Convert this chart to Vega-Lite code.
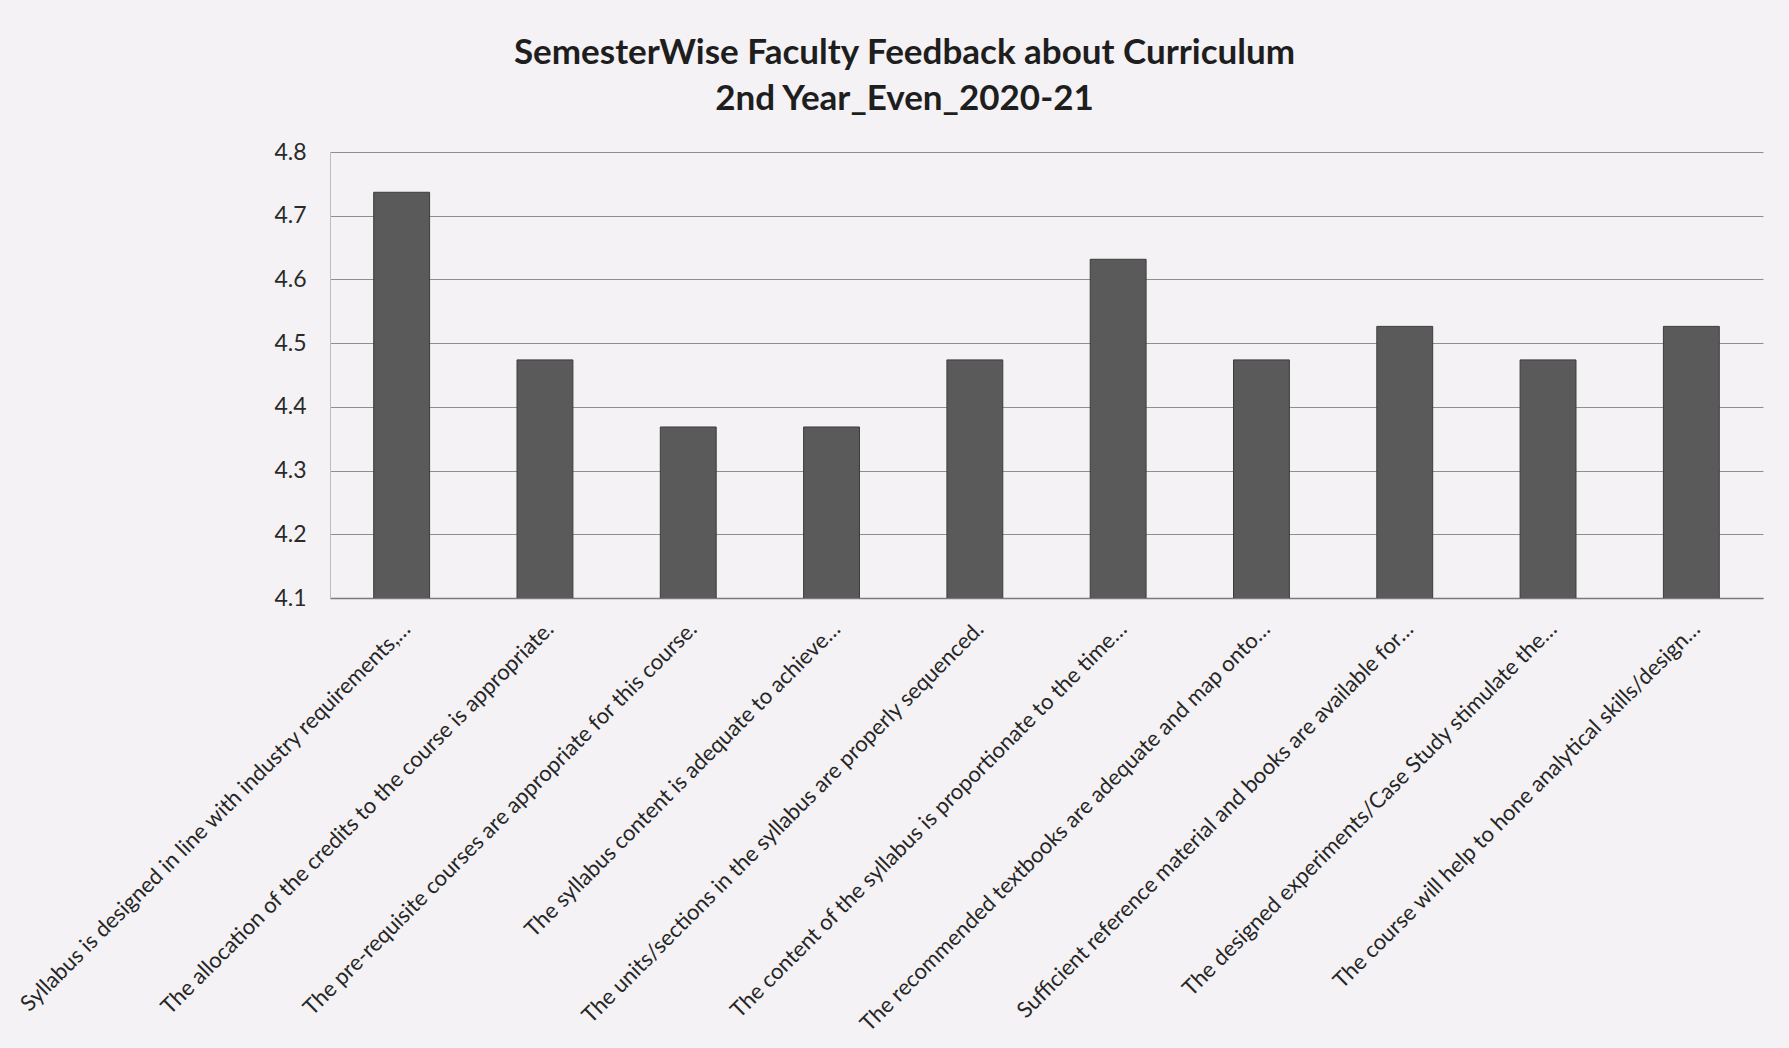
{
  "$schema": "https://vega.github.io/schema/vega-lite/v6.json",
  "autosize": {"type": "none"},
  "width": 1433,
  "height": 446,
  "padding": {"left": 330, "top": 152, "right": 26, "bottom": 450},
  "background": "#f4f2f4",
  "title": {
    "text": ["SemesterWise Faculty Feedback about Curriculum", "2nd Year_Even_2020-21"],
    "anchor": "middle",
    "frame": "group",
    "dx": -142,
    "offset": 24,
    "font": "Lato",
    "fontSize": 35,
    "fontWeight": "bold",
    "color": "#1e1e1e",
    "lineHeight": 46
  },
  "data": {
    "values": [
      {"statement": "Syllabus is designed in line with industry requirements,…", "score": 4.7368},
      {"statement": "The allocation of the credits to the course is appropriate.", "score": 4.4737},
      {"statement": "The pre-requisite courses are appropriate for this course.", "score": 4.3684},
      {"statement": "The syllabus content is adequate to achieve…", "score": 4.3684},
      {"statement": "The units/sections in the syllabus are properly sequenced.", "score": 4.4737},
      {"statement": "The content of the syllabus is proportionate to the time…", "score": 4.6316},
      {"statement": "The recommended textbooks are adequate and map onto…", "score": 4.4737},
      {"statement": "Sufficient reference material and books are available for…", "score": 4.5263},
      {"statement": "The designed experiments/Case Study stimulate the…", "score": 4.4737},
      {"statement": "The course will help to hone analytical skills/design…", "score": 4.5263}
    ]
  },
  "mark": {"type": "bar", "fill": "#5a5a5a", "stroke": "#3c3c3c", "strokeWidth": 1, "clip": true},
  "encoding": {
    "x": {
      "field": "statement",
      "type": "nominal",
      "sort": null,
      "title": null,
      "scale": {"paddingInner": 0.61, "paddingOuter": 0.305},
      "axis": {
        "labelAngle": -45,
        "labelAlign": "right",
        "labelBaseline": "alphabetic",
        "labelPadding": 32,
        "labelOffset": 10,
        "labelLimit": 1000,
        "labelFont": "Lato",
        "labelFontSize": 22,
        "labelColor": "#262626",
        "ticks": false,
        "domainColor": "#7a7a7a",
        "domainWidth": 1.5
      }
    },
    "y": {
      "field": "score",
      "type": "quantitative",
      "title": null,
      "scale": {"domain": [4.1, 4.8], "zero": false, "nice": false},
      "axis": {
        "values": [4.1, 4.2, 4.3, 4.4, 4.5, 4.6, 4.7, 4.8],
        "format": ".1f",
        "labelFont": "Lato",
        "labelFontSize": 23,
        "labelColor": "#2a2a2a",
        "labelPadding": 24,
        "ticks": false,
        "domainColor": "#bdbdbd",
        "gridColor": "#8f8f8f",
        "gridWidth": 1
      }
    }
  },
  "config": {"view": {"stroke": null}}
}
